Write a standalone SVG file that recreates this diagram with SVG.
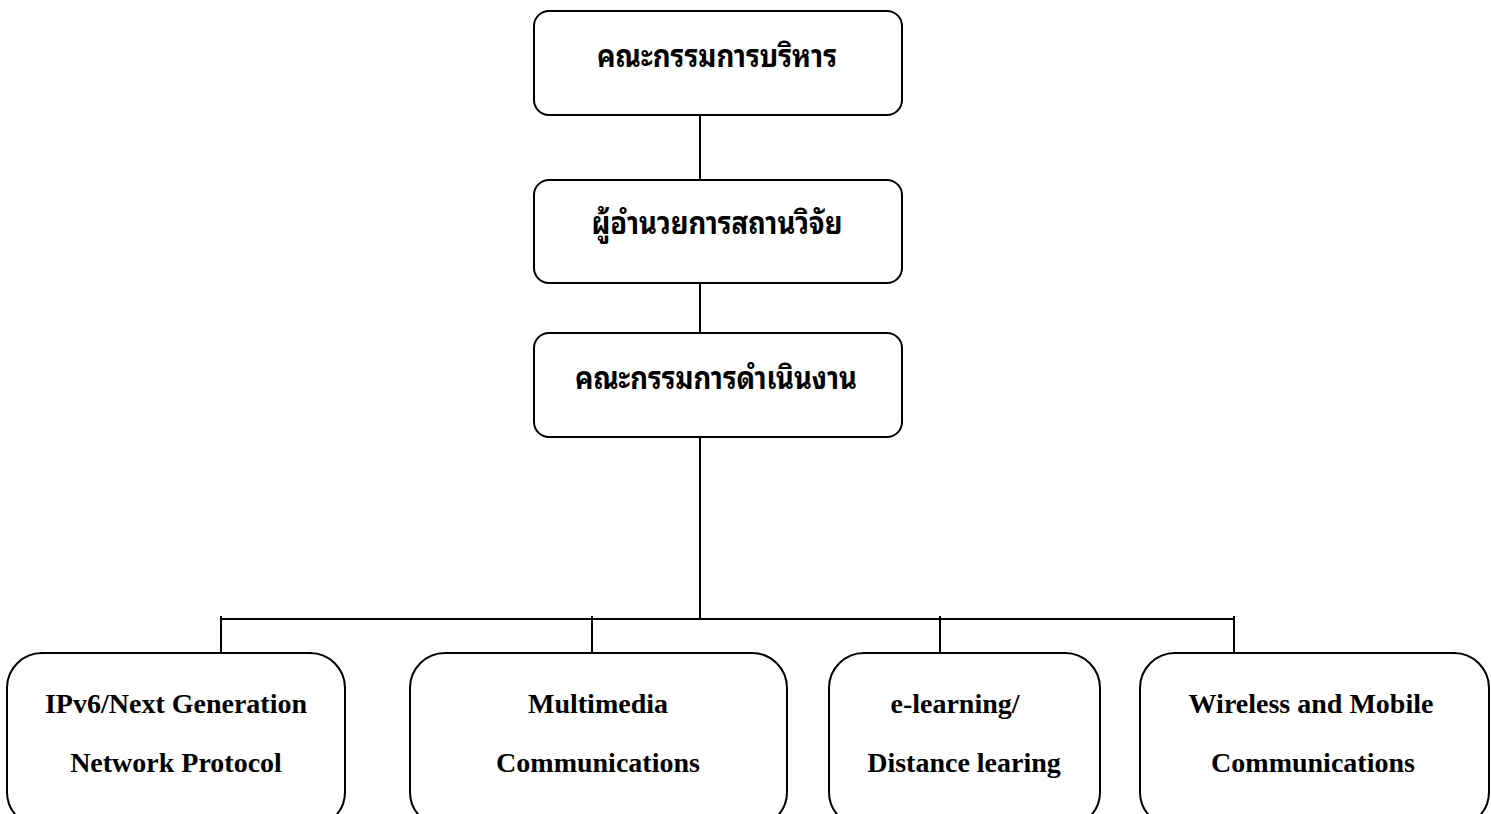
<svg xmlns="http://www.w3.org/2000/svg" width="1491" height="814" viewBox="0 0 1491 814">
<style>
.box{fill:#fff;stroke:#000;stroke-width:2}
.th{font-family:"Noto Sans Thai Looped","Noto Sans Thai","Tahoma","Noto Sans","DejaVu Sans",sans-serif;font-weight:bold;font-size:31px;text-anchor:middle;fill:#000}
.en{font-family:"Liberation Serif","Times New Roman",serif;font-weight:bold;font-size:28px;text-anchor:middle;fill:#000}
.ln{stroke:#000;stroke-width:2;fill:none}
</style>
<rect width="1491" height="814" fill="#fff"/>
<g id="connectors">
<line class="ln" x1="700" y1="115" x2="700" y2="180"/>
<line class="ln" x1="700" y1="283" x2="700" y2="333"/>
<line class="ln" x1="700" y1="437" x2="700" y2="619"/>
<line class="ln" x1="221" y1="619" x2="1234" y2="619"/>
<line class="ln" x1="221" y1="616" x2="221" y2="653"/>
<line class="ln" x1="592" y1="616" x2="592" y2="653"/>
<line class="ln" x1="940" y1="616" x2="940" y2="653"/>
<line class="ln" x1="1234" y1="616" x2="1234" y2="653"/>
</g>
<g id="n1">
<rect class="box" x="534" y="11" width="368" height="104" rx="15"/>
<text class="th" x="717" y="67" textLength="240" lengthAdjust="spacingAndGlyphs">คณะกรรมการบริหาร</text>
</g>
<g id="n2">
<rect class="box" x="534" y="180" width="368" height="103" rx="15"/>
<text class="th" x="717" y="234" textLength="251" lengthAdjust="spacingAndGlyphs">ผู้อำนวยการสถานวิจัย</text>
</g>
<g id="n3">
<rect class="box" x="534" y="333" width="368" height="104" rx="15"/>
<text class="th" x="716" y="389" textLength="282" lengthAdjust="spacingAndGlyphs">คณะกรรมการดำเนินงาน</text>
</g>
<g id="n4">
<rect class="box" x="7" y="653" width="338" height="174" rx="35"/>
<text class="en" x="176" y="713">IPv6/Next Generation</text>
<text class="en" x="176" y="772">Network Protocol</text>
</g>
<g id="n5">
<rect class="box" x="410" y="653" width="377" height="174" rx="35"/>
<text class="en" x="598" y="713">Multimedia</text>
<text class="en" x="598" y="772">Communications</text>
</g>
<g id="n6">
<rect class="box" x="829" y="653" width="271" height="174" rx="35"/>
<text class="en" x="955" y="713">e-learning/</text>
<text class="en" x="964" y="772">Distance learing</text>
</g>
<g id="n7">
<rect class="box" x="1140" y="653" width="349" height="174" rx="35"/>
<text class="en" x="1311" y="713">Wireless and Mobile</text>
<text class="en" x="1313" y="772">Communications</text>
</g>
</svg>
